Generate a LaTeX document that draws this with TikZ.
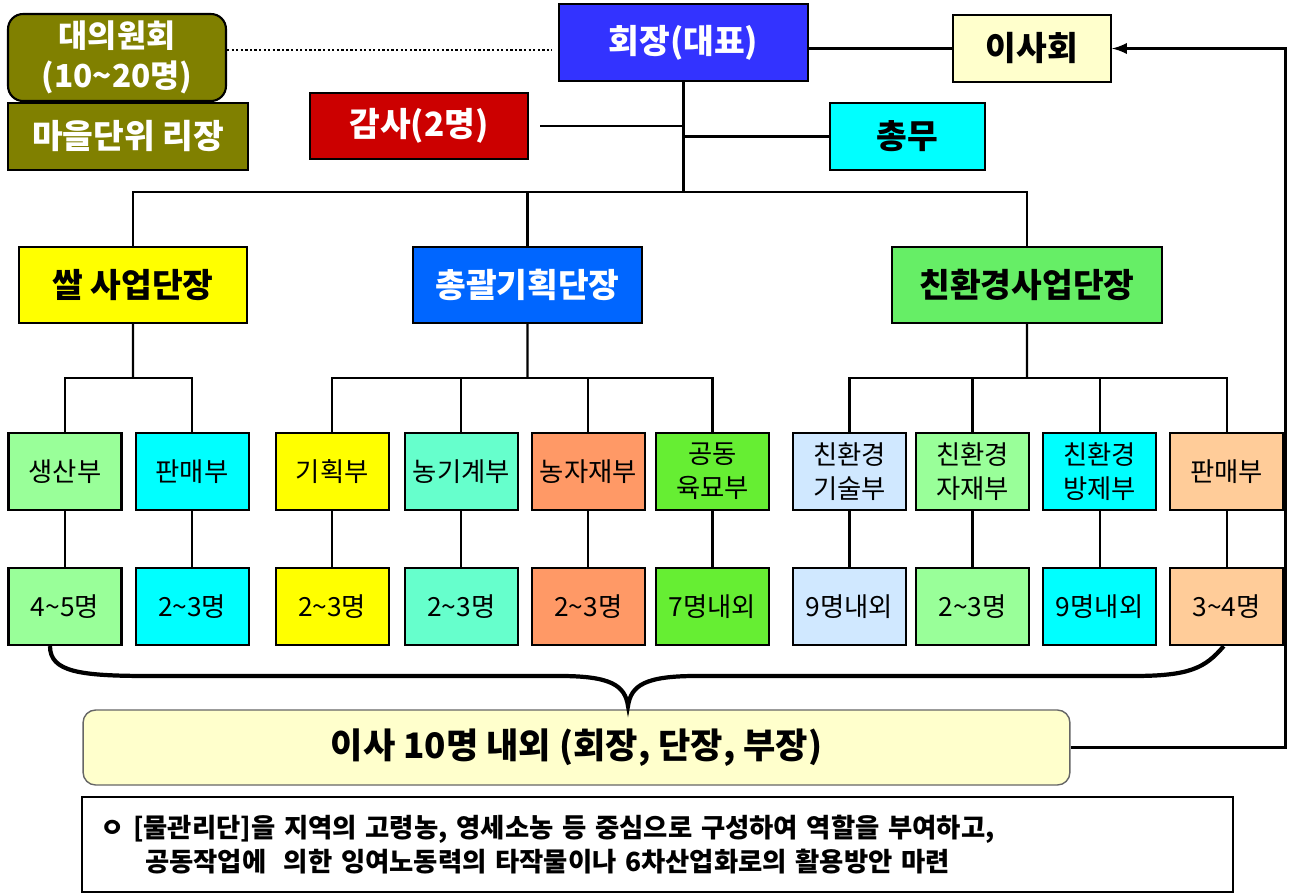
\documentclass[tikz,border=0pt]{standalone}
\usepackage{fontspec}
\setmainfont{Noto Sans CJK KR}
\usepackage{xcolor}
\usepackage{tikz}
\usetikzlibrary{arrows}
\usetikzlibrary{calc}
\usetikzlibrary{positioning}

\definecolor{cOlive}{RGB}{128,128,0}
\definecolor{cChair}{RGB}{51,51,255}
\definecolor{cBoard}{RGB}{255,255,204}
\definecolor{cAudit}{RGB}{204,0,0}
\definecolor{cCyan}{RGB}{0,255,255}
\definecolor{cYellow}{RGB}{255,255,0}
\definecolor{cPlan}{RGB}{0,102,255}
\definecolor{cEco}{RGB}{102,238,102}
\definecolor{cLightGreen}{RGB}{153,255,153}
\definecolor{cAqua}{RGB}{102,255,204}
\definecolor{cCoral}{RGB}{255,153,102}
\definecolor{cGreen}{RGB}{102,238,51}
\definecolor{cLightBlue}{RGB}{208,232,255}
\definecolor{cPeach}{RGB}{255,204,153}

\begin{document}
\begin{tikzpicture}
[
	x = 0.02cm, y = -0.02cm,
	box/.style	= {draw = black, line width = 1.2pt, inner sep = 0cm, align = center},
	head/.style	= {box, font = \fontsize{19}{23}\selectfont\bfseries},
	dept/.style	= {box, minimum width = 2.26cm, minimum height = 1.54cm, font = \fontsize{15}{19.5}\selectfont},
	link/.style	= {line width = 1.3pt},
	brace/.style	= {line width = 2.4pt},
	feedback/.style	= {-latex, line width = 1.9pt},
	node distance = 1.12cm and 0.24cm,
]
	\useasboundingbox (0,0) rectangle (1289,896);

	\node (council) [head, fill = cOlive, text = white, rounded corners = 0.3cm, minimum width = 4.36cm, minimum height = 1.74cm, font = \fontsize{18}{23}\selectfont\bfseries] at (117,57.5) {대의원회\\(10\textasciitilde 20명)};
	\node (village) [head, fill = cOlive, text = white, minimum width = 4.8cm, minimum height = 1.34cm] at (128,136.5) {마을단위 리장};
	%
	\node (hoejang) [head, fill = cChair, text = white, minimum width = 4.98cm, minimum height = 1.54cm] at (683.5,42.5) {회장(대표)};
	\node (board) [head, fill = cBoard, minimum width = 3.16cm, minimum height = 1.34cm] at (1032,48.5) {이사회};
	\node (gamsa) [head, fill = cAudit, text = white, minimum width = 4.36cm, minimum height = 1.32cm] at (419,126) {감사(2명)};
	\node (chongmu) [head, fill = cCyan, minimum width = 3.1cm, minimum height = 1.34cm] at (907.5,136.5) {총무};
	%
	\node (ssal) [head, fill = cYellow, minimum width = 4.56cm, minimum height = 1.52cm] at (133,285) {쌀 사업단장};
	\node (plan) [head, fill = cPlan, text = white, minimum width = 4.58cm, minimum height = 1.52cm] at (527.5,285) {총괄기획단장};
	\node (eco) [head, fill = cEco, minimum width = 5.4cm, minimum height = 1.52cm] at (1027,285) {친환경사업단장};

	\node (d1) [dept, fill = cLightGreen] at (65,471.5) {생산부};
	\node (d2) [dept, fill = cCyan, right = 0.24cm of d1] {판매부};
	\node (d3) [dept, fill = cYellow, right = 0.5cm of d2] {기획부};
	\node (d4) [dept, fill = cAqua, right = 0.28cm of d3] {농기계부};
	\node (d5) [dept, fill = cCoral, right = 0.24cm of d4] {농자재부};
	\node (d6) [dept, fill = cGreen, right = 0.18cm of d5] {공동\\육묘부};
	\node (d7) [dept, fill = cLightBlue, right = 0.44cm of d6] {친환경\\기술부};
	\node (d8) [dept, fill = cLightGreen, right = 0.16cm of d7] {친환경\\자재부};
	\node (d9) [dept, fill = cCyan, right = 0.24cm of d8] {친환경\\방제부};
	\node (d10) [dept, fill = cPeach, right = 0.24cm of d9] {판매부};
	%
	\node (l1) [dept, fill = cLightGreen, below = of d1] {4\textasciitilde 5명};
	\node (l2) [dept, fill = cCyan, below = of d2] {2\textasciitilde 3명};
	\node (l3) [dept, fill = cYellow, below = of d3] {2\textasciitilde 3명};
	\node (l4) [dept, fill = cAqua, below = of d4] {2\textasciitilde 3명};
	\node (l5) [dept, fill = cCoral, below = of d5] {2\textasciitilde 3명};
	\node (l6) [dept, fill = cGreen, below = of d6] {7명내외};
	\node (l7) [dept, fill = cLightBlue, below = of d7] {9명내외};
	\node (l8) [dept, fill = cLightGreen, below = of d8] {2\textasciitilde 3명};
	\node (l9) [dept, fill = cCyan, below = of d9] {9명내외};
	\node (l10) [dept, fill = cPeach, below = of d10] {3\textasciitilde 4명};

	\node (isa10) [box, draw = black!60, line width = 0.8pt, fill = cBoard, rounded corners = 0.25cm, minimum width = 19.74cm, minimum height = 1.5cm, font = \fontsize{20}{24}\selectfont\bfseries] at (576.5,747.5) {이사 10명 내외 (회장, 단장, 부장)};
	\node (note) [draw = black, line width = 0.7pt, minimum width = 23.02cm, minimum height = 1.9cm, inner xsep = 0.36cm, text width = 22.3cm, align = left, font = \fontsize{15}{19}\selectfont\bfseries] at (657.5,844.5) {ㅇ [물관리단]을 지역의 고령농, 영세소농 등 중심으로 구성하여 역할을 부여하고,\\\hspace*{0.9cm}공동작업에 \ 의한 잉여노동력의 타작물이나 6차산업화로의 활용방안 마련};

	% top links
	\coordinate (topbus) at (hoejang.south |- 0,192);
	\draw [link, dash pattern = on 1.3pt off 1.3pt, shorten > = 0.12cm] (council.east |- 0,50) -- (hoejang.west |- 0,50);
	\draw [link] (board.west) -- (board.west -| hoejang.east);
	\draw [link, shorten < = 0.22cm] (gamsa.east) -- (gamsa.east -| hoejang.south);
	\draw [link] (chongmu.west) -- (chongmu.west -| hoejang.south);
	\draw [link] (hoejang.south) -- (topbus);
	\draw [link] (ssal.north) |- (topbus) -| (eco.north);
	\draw [link] (plan.north) -- (plan.north |- topbus);

	% teams
	\coordinate (ssalbus) at ($(ssal.south)!0.5!(ssal.south |- d1.north)$);
	\coordinate (planbus) at ($(plan.south)!0.5!(plan.south |- d3.north)$);
	\coordinate (ecobus) at ($(eco.south)!0.5!(eco.south |- d7.north)$);
	\draw [link] (ssal.south) -- (ssalbus);
	\draw [link] (d1.north) |- (ssalbus) -| (d2.north);
	%
	\draw [link] (plan.south) -- (planbus);
	\draw [link] (d3.north) |- (planbus) -| (d6.north);
	\draw [link] (d4.north) -- (d4.north |- planbus);
	\draw [link] (d5.north) -- (d5.north |- planbus);
	%
	\draw [link] (eco.south) -- (ecobus);
	\draw [link] (d7.north) |- (ecobus) -| (d10.north);
	\draw [link] (d8.north) -- (d8.north |- ecobus);
	\draw [link] (d9.north) -- (d9.north |- ecobus);

	\draw [link] (d1) -- (l1);
	\draw [link] (d2) -- (l2);
	\draw [link] (d3) -- (l3);
	\draw [link] (d4) -- (l4);
	\draw [link] (d5) -- (l5);
	\draw [link] (d6) -- (l6);
	\draw [link] (d7) -- (l7);
	\draw [link] (d8) -- (l8);
	\draw [link] (d9) -- (l9);
	\draw [link] (d10) -- (l10);

	% board of directors
	\draw [brace] ([xshift = -0.3cm]l1.south) .. controls (50,672) and (80,676) .. (150,676) -- (560,676) .. controls (610,676) and (625,685) .. (628,706) .. controls (631,685) and (646,676) .. (696,676) -- (1133,676) .. controls (1190,676) and (1205,668) .. ([xshift = -0.06cm]l10.south);
	\draw [feedback] (isa10.east) -- ++(215,0) |- (board.east);

\end{tikzpicture}
\end{document}
